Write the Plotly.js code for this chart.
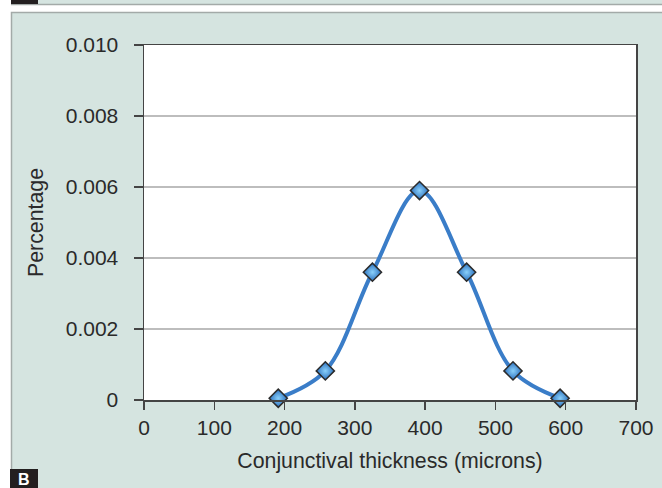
<!DOCTYPE html>
<html>
<head>
<meta charset="utf-8">
<script src="https://cdn.plot.ly/plotly-3.0.1.min.js"></script>
<style>
html,body{margin:0;padding:0;background:#ffffff;}
#chart{width:662px;height:488px;}
</style>
</head>
<body>
<div id="chart"></div>
<script>
// Data
var thickness = [191, 258, 325, 392, 459, 525, 592];
var percentage = [0.00005, 0.00082, 0.0036, 0.0059, 0.0036, 0.00082, 0.00005];
var xTickVals = [0, 100, 200, 300, 400, 500, 600, 700];
var yTickVals = [0, 0.002, 0.004, 0.006, 0.008, 0.010];
var yTickText = ['0', '0.002', '0.004', '0.006', '0.008', '0.010'];
var xTitle = 'Conjunctival thickness (microns)';
var yTitle = 'Percentage';
var panelLabel = 'B';

var W = 662, H = 488;
var mL = 144, mR = 26, mT = 45, mB = 88;
var pw = W - mL - mR, ph = H - mT - mB;
function px(x){ return (x - mL) / pw; }
function py(y){ return (H - mB - y) / ph; }
function rect(x0, y0, x1, y1, fill, lineColor, lineW){
  return {type:'rect', xref:'paper', yref:'paper', layer:'below',
    x0:px(x0), x1:px(x1), y0:py(y1), y1:py(y0),
    fillcolor:fill, line:{color:lineColor||'rgba(0,0,0,0)', width:lineW||0}};
}
function hline(x0, x1, y, color, w){
  return {type:'line', xref:'paper', yref:'paper', layer:'below',
    x0:px(x0), x1:px(x1), y0:py(y), y1:py(y), line:{color:color, width:w}};
}

var mint = '#d5e4e0';
var shapes = [
  rect(11.5, 12.5, 680, 500, mint, '#a3aaa8', 1.5),
  rect(38, -5, 680, 4, mint),
  hline(11, 680, 4.5, '#a3aaa8', 1.5),
  rect(11, -5, 38, 4, '#231f20'),
  rect(10, 469, 38, 500, '#231f20'),
  {type:'rect', xref:'paper', yref:'paper', layer:'below', x0:0, x1:1, y0:0, y1:1,
    fillcolor:'#ffffff', line:{width:0}}
];

var trace = {
  x: thickness,
  y: percentage,
  type: 'scatter',
  mode: 'lines+markers',
  line: {shape:'spline', smoothing:1, color:'#3a7dc8', width:4},
  marker: {symbol:'diamond', size:14, color:'#2a6fbd',
    gradient:{type:'radial', color:'#8ad0fa'},
    line:{color:'#2b2b2b', width:1.5}},
  hoverinfo: 'skip',
  cliponaxis: false
};

var fontFam = '"Liberation Sans", Arial, Helvetica, sans-serif';
var txt = '#2a2a2a';
var layout = {
  width: W, height: H,
  margin: {l:mL, r:mR, t:mT, b:mB, pad:0},
  paper_bgcolor: '#ffffff',
  plot_bgcolor: '#ffffff',
  showlegend: false,
  font: {family: fontFam, size: 21, color: txt},
  xaxis: {
    range: [0, 700], tickvals: xTickVals,
    ticks: 'outside', ticklen: 8, tickwidth: 1.5, tickcolor: '#444',
    showline: true, linecolor: '#444', linewidth: 1.5, mirror: true,
    showgrid: false, zeroline: false,
    tickfont: {family: fontFam, size: 21, color: txt},
    title: {text: xTitle, font:{family: fontFam, size: 21.3, color: txt}, standoff: 15}
  },
  yaxis: {
    range: [0, 0.010], tickvals: yTickVals, ticktext: yTickText,
    ticks: 'outside', ticklen: 9, tickwidth: 1.5, tickcolor: '#444',
    showline: true, linecolor: '#444', linewidth: 1.5, mirror: true,
    showgrid: true, gridcolor: '#bdbdbd', gridwidth: 1.5, zeroline: false,
    ticklabelstandoff: 11,
    tickfont: {family: fontFam, size: 21, color: txt},
    title: {text: yTitle, font:{family: fontFam, size: 21.3, color: txt}, standoff: 16}
  },
  shapes: shapes,
  annotations: [{
    xref:'paper', yref:'paper', x:px(24), y:py(489), xanchor:'center', yanchor:'bottom',
    text:'<b>' + panelLabel + '</b>', showarrow:false, borderpad:0,
    font:{family: fontFam, size: 16, color:'#ffffff'}
  }]
};

Plotly.newPlot('chart', [trace], layout, {displayModeBar:false, staticPlot:true});
</script>
</body>
</html>
